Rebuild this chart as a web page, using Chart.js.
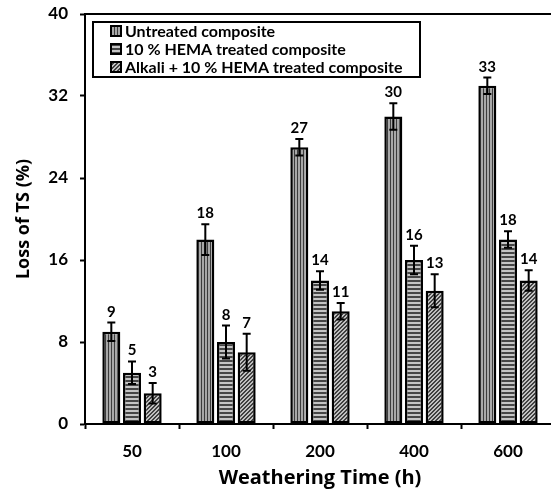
<!DOCTYPE html>
<html>
<head>
<meta charset="utf-8">
<script src="https://cdn.jsdelivr.net/npm/chart.js@4.4.1/dist/chart.umd.min.js"></script>
<style>
  html, body { margin: 0; padding: 0; background: #fff; overflow: hidden; }
  canvas { display: block; }
</style>
</head>
<body>
<canvas id="tsChart" width="560" height="490"></canvas>
<script>
// weathering time categories (h)
const times = ["50", "100", "200", "400", "600"];

// loss of tensile strength (%)
const untreated = [9, 18, 27, 30, 33];
const hemaTreated = [5, 8, 14, 16, 18];
const alkaliHema = [3, 7, 11, 13, 14];

// error bar half-lengths
const untreatedErr = [0.9, 1.5, 0.8, 1.3, 0.8];
const hemaErr = [1.1, 1.6, 0.9, 1.4, 0.8];
const alkaliErr = [1.0, 1.8, 0.8, 1.6, 1.0];

const seriesNames = [
  "Untreated composite",
  "10 % HEMA treated composite",
  "Alkali + 10 % HEMA treated composite"
];

const FONT = "Lato, 'Open Sans', sans-serif";
const TITLE_FONT = "'Open Sans', Lato, sans-serif";

/* ---------- fill patterns ---------- */
function makePattern(kind) {
  const size = kind === "vert" ? 3 : 4;
  const c = document.createElement("canvas");
  c.width = size;
  c.height = size;
  const g = c.getContext("2d");
  if (kind === "vert") {
    g.fillStyle = "#a8a8a8";
    g.fillRect(0, 0, size, size);
    g.fillStyle = "#3c3c3c";
    g.fillRect(0, 0, 1, size);
  } else if (kind === "horiz") {
    g.fillStyle = "#c4c4c4";
    g.fillRect(0, 0, size, size);
    g.fillStyle = "#454545";
    g.fillRect(0, 0, size, 2);
  } else {
    g.fillStyle = "#c0c0c0";
    g.fillRect(0, 0, size, size);
    g.fillStyle = "#404040";
    for (let i = 0; i < size; i++) {
      g.fillRect(size - 1 - i, i, 1, 1);
      g.fillRect((size - i) % size, i, 1, 1);
    }
  }
  return g.createPattern(c, "repeat");
}

const patterns = [makePattern("vert"), makePattern("horiz"), makePattern("diag")];
const errors = [untreatedErr, hemaErr, alkaliErr];

/* ---------- error bars + value labels ---------- */
const errorBars = {
  id: "errorBars",
  afterDatasetsDraw(chart) {
    const ctx = chart.ctx;
    const y = chart.scales.y;
    chart.data.datasets.forEach((ds, di) => {
      const meta = chart.getDatasetMeta(di);
      meta.data.forEach((bar, i) => {
        const v = ds.data[i];
        const e = errors[di][i];
        const top = y.getPixelForValue(v + e);
        const bot = y.getPixelForValue(v - e);
        ctx.save();
        ctx.strokeStyle = "#000";
        ctx.lineWidth = 2;
        ctx.beginPath();
        ctx.moveTo(bar.x, top);
        ctx.lineTo(bar.x, bot);
        ctx.moveTo(bar.x - 4, top);
        ctx.lineTo(bar.x + 4, top);
        ctx.moveTo(bar.x - 4, bot);
        ctx.lineTo(bar.x + 4, bot);
        ctx.stroke();
        ctx.fillStyle = "#000";
        ctx.font = "bold 15px " + FONT;
        ctx.textAlign = "center";
        ctx.textBaseline = "alphabetic";
        ctx.fillText(String(v), bar.x, top - 6);
        ctx.restore();
      });
    });
  }
};

/* ---------- frame top line + legend box ---------- */
const frameAndLegend = {
  id: "frameAndLegend",
  afterDraw(chart) {
    const ctx = chart.ctx;
    const a = chart.chartArea;
    ctx.save();
    ctx.strokeStyle = "#000";
    ctx.lineWidth = 2;
    ctx.beginPath();
    ctx.moveTo(a.left - 1, a.top);
    ctx.lineTo(chart.width, a.top);
    ctx.stroke();

    // legend
    const bx = 93, by = 22, bw = 327, bh = 55;
    ctx.lineWidth = 2;
    ctx.strokeRect(bx, by, bw, bh);
    ctx.font = "bold 16px " + FONT;
    ctx.textAlign = "left";
    ctx.textBaseline = "middle";
    chart.data.datasets.forEach((ds, i) => {
      const cy = 31 + i * 18;
      ctx.fillStyle = patterns[i];
      ctx.fillRect(111, cy - 5, 10, 10);
      ctx.lineWidth = 2;
      ctx.strokeRect(111, cy - 5, 10, 10);
      ctx.fillStyle = "#000";
      ctx.fillText(ds.label, 125, cy + 1);
    });
    ctx.restore();
  }
};

new Chart(document.getElementById("tsChart"), {
  type: "bar",
  data: {
    labels: times,
    datasets: [untreated, hemaTreated, alkaliHema].map((vals, i) => ({
      label: seriesNames[i],
      data: vals,
      backgroundColor: patterns[i],
      borderColor: "#000",
      borderWidth: 2.5,
      borderSkipped: false,
      categoryPercentage: 0.66,
      barPercentage: 0.87
    }))
  },
  options: {
    responsive: false,
    animation: false,
    layout: { padding: { top: 14, right: 5, left: 0, bottom: 0 } },
    plugins: {
      legend: { display: false },
      tooltip: { enabled: false }
    },
    scales: {
      x: {
        grid: {
          offset: true,
          drawOnChartArea: false,
          drawTicks: true,
          tickLength: 5,
          tickWidth: 2,
          color: "#000"
        },
        border: { display: true, color: "#000", width: 2 },
        ticks: {
          color: "#000",
          padding: 12,
          font: { family: FONT, size: 17, weight: "bold" }
        },
        title: {
          display: true,
          text: "Weathering Time (h)",
          color: "#000",
          padding: { top: 4, bottom: 0 },
          font: { family: TITLE_FONT, size: 20, weight: "bold" }
        },
        afterFit(scale) { scale.height = 66; }
      },
      y: {
        min: 0,
        max: 40,
        ticks: {
          stepSize: 8,
          color: "#000",
          padding: 12,
          font: { family: FONT, size: 17, weight: "bold" }
        },
        grid: {
          drawOnChartArea: false,
          drawTicks: true,
          tickLength: 5,
          tickWidth: 2,
          color: "#000"
        },
        border: { display: true, color: "#000", width: 2 },
        title: {
          display: true,
          text: "Loss of TS (%)",
          color: "#000",
          padding: { top: 13, bottom: 0 },
          font: { family: TITLE_FONT, size: 18, weight: "bold" }
        },
        afterFit(scale) {
          scale.width = 85;
          scale.paddingTop = 0;
          scale.paddingBottom = 0;
        }
      }
    }
  },
  plugins: [errorBars, frameAndLegend]
});
</script>
</body>
</html>
